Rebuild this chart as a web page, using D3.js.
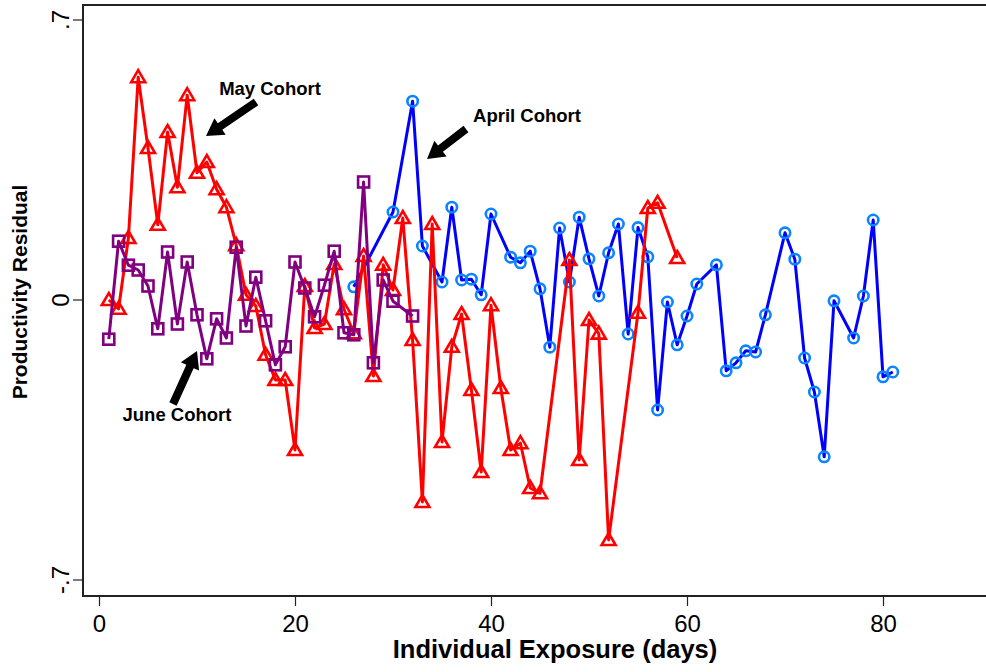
<!DOCTYPE html>
<html>
<head>
<meta charset="utf-8">
<script src="https://cdn.jsdelivr.net/npm/d3@7"></script>
<style>
  body { margin: 0; background: #fff; }
  svg { display: block; }
</style>
</head>
<body>
<script>
// April cohort (blue circles)
let aprilDays = [26, 30, 32, 33, 35, 36, 37, 38, 39, 40, 42, 43, 44, 45, 46, 47, 48, 49, 50, 51, 52, 53, 54, 55, 56, 57, 58, 59, 60, 61, 63, 64, 65, 66, 67, 68, 70, 71, 72, 73, 74, 75, 77, 78, 79, 80, 81];
let aprilVals = [0.033, 0.22, 0.497, 0.135, 0.045, 0.232, 0.05, 0.052, 0.013, 0.215, 0.107, 0.093, 0.122, 0.028, -0.118, 0.18, 0.045, 0.207, 0.103, 0.01, 0.118, 0.19, -0.085, 0.181, 0.108, -0.275, -0.005, -0.112, -0.04, 0.04, 0.088, -0.177, -0.157, -0.127, -0.13, -0.037, 0.168, 0.102, -0.145, -0.23, -0.392, -0.002, -0.095, 0.01, 0.2, -0.192, -0.18];

// May cohort (red triangles)
let mayDays = [1, 2, 3, 4, 5, 6, 7, 8, 9, 10, 11, 12, 13, 14, 15, 16, 17, 18, 19, 20, 21, 22, 23, 24, 25, 26, 27, 28, 29, 30, 31, 32, 33, 34, 35, 36, 37, 38, 39, 40, 41, 42, 43, 44, 45, 48, 49, 50, 51, 52, 55, 56, 57, 59];
let mayVals = [0.0, -0.022, 0.155, 0.557, 0.38, 0.188, 0.42, 0.282, 0.512, 0.318, 0.345, 0.277, 0.232, 0.137, 0.013, -0.015, -0.137, -0.2, -0.2, -0.375, 0.035, -0.07, -0.06, 0.09, -0.023, -0.083, 0.11, -0.19, 0.088, 0.025, 0.205, -0.1, -0.505, 0.19, -0.355, -0.117, -0.035, -0.225, -0.43, -0.013, -0.22, -0.375, -0.358, -0.47, -0.483, 0.1, -0.4, -0.05, -0.084, -0.6, -0.032, 0.23, 0.243, 0.105];

// June cohort (purple squares)
let juneDays = [1, 2, 3, 4, 5, 6, 7, 8, 9, 10, 11, 12, 13, 14, 15, 16, 17, 18, 19, 20, 21, 22, 23, 24, 25, 26, 27, 28, 29, 30, 32];
let juneVals = [-0.098, 0.147, 0.087, 0.075, 0.035, -0.072, 0.12, -0.06, 0.095, -0.037, -0.147, -0.047, -0.095, 0.132, -0.065, 0.057, -0.052, -0.162, -0.117, 0.095, 0.03, -0.042, 0.037, 0.122, -0.082, -0.087, 0.295, -0.157, 0.05, -0.003, -0.04];

let xTicks = [0, 20, 40, 60, 80];
let yTicks = [-0.7, 0, 0.7];
let yTickLabels = ["-.7", "0", ".7"];

let canvasW = 986;
let canvasH = 672;
let plotL = 83, plotT = 5, plotB = 596, plotR = 1010;

let svg = d3.select("body").append("svg")
  .attr("width", canvasW)
  .attr("height", canvasH);

let x = d3.scaleLinear().domain([0, 80]).range([99, 883]);
let y = d3.scaleLinear().domain([0.7, -0.7]).range([20, 580]);

let font = "'Liberation Sans', Arial, Helvetica, sans-serif";

// frame
svg.append("rect")
  .attr("x", plotL).attr("y", plotT)
  .attr("width", plotR - plotL).attr("height", plotB - plotT)
  .attr("fill", "none")
  .attr("stroke", "#222")
  .attr("stroke-width", 2);

// axes
let xAxis = svg.append("g")
  .attr("transform", "translate(0," + plotB + ")")
  .call(d3.axisBottom(x).tickValues(xTicks).tickSize(10).tickPadding(9));
xAxis.select(".domain").remove();
xAxis.selectAll("line").attr("stroke", "#222").attr("stroke-width", 1.2);
xAxis.selectAll("text").attr("font-family", font).attr("font-size", "24px").attr("fill", "#000");

let yAxis = svg.append("g")
  .attr("transform", "translate(" + plotL + ",0)")
  .call(d3.axisLeft(y).tickValues(yTicks).tickSize(10).tickFormat((d, i) => yTickLabels[i]));
yAxis.select(".domain").remove();
yAxis.selectAll("line").attr("stroke", "#222").attr("stroke-width", 1.2);
yAxis.selectAll(".tick").attr("transform", null);
yAxis.selectAll("line").attr("y1", d => y(d)).attr("y2", d => y(d));
yAxis.selectAll("text")
  .attr("font-family", font).attr("font-size", "24px").attr("fill", "#000")
  .attr("x", null).attr("y", null).attr("dy", null)
  .attr("text-anchor", "middle")
  .attr("transform", d => "translate(-22," + y(d) + ") rotate(-90) translate(0,8)");

svg.append("text")
  .attr("x", 555)
  .attr("y", 658)
  .attr("text-anchor", "middle")
  .attr("font-family", font)
  .attr("font-weight", "bold")
  .attr("font-size", "25.5px")
  .text("Individual Exposure (days)");

svg.append("text")
  .attr("text-anchor", "middle")
  .attr("font-family", font)
  .attr("font-weight", "bold")
  .attr("font-size", "21px")
  .attr("transform", "translate(27," + (y(0) - 8) + ") rotate(-90)")
  .text("Productivity Residual");

let line = d3.line().x(d => x(d[0])).y(d => y(d[1]));

// April
let april = aprilDays.map((d, i) => [d, aprilVals[i]]);
svg.append("path").datum(april)
  .attr("d", line).attr("fill", "none")
  .attr("stroke", "#0000ff").attr("stroke-width", 3).attr("stroke-linejoin", "round");
svg.selectAll(".apr").data(april).enter().append("circle")
  .attr("cx", d => x(d[0])).attr("cy", d => y(d[1]))
  .attr("r", 5.2)
  .attr("fill", "none")
  .attr("stroke", "#0a84ff")
  .attr("stroke-width", 2.6);

// May
let may = mayDays.map((d, i) => [d, mayVals[i]]);
svg.append("path").datum(may)
  .attr("d", line).attr("fill", "none")
  .attr("stroke", "#ff0000").attr("stroke-width", 3).attr("stroke-linejoin", "round");
svg.selectAll(".may").data(may).enter().append("path")
  .attr("d", d => {
    let cx = x(d[0]), cy = y(d[1]);
    return "M" + cx + "," + (cy - 7) + "L" + (cx + 7) + "," + (cy + 5) + "L" + (cx - 7) + "," + (cy + 5) + "Z";
  })
  .attr("fill", "none")
  .attr("stroke", "#ff0000")
  .attr("stroke-width", 2.6);

// June
let june = juneDays.map((d, i) => [d, juneVals[i]]);
svg.append("path").datum(june)
  .attr("d", line).attr("fill", "none")
  .attr("stroke", "#800080").attr("stroke-width", 3).attr("stroke-linejoin", "round");
svg.selectAll(".jun").data(june).enter().append("rect")
  .attr("x", d => x(d[0]) - 5.5).attr("y", d => y(d[1]) - 5.5)
  .attr("width", 11).attr("height", 11)
  .attr("fill", "none")
  .attr("stroke", "#800080")
  .attr("stroke-width", 2.6);

// annotations
function arrow(x1, y1, x2, y2) {
  let ang = Math.atan2(y2 - y1, x2 - x1);
  let headLen = 17, headW = 10, shaftW = 4;
  let bx = x2 - headLen * Math.cos(ang), by = y2 - headLen * Math.sin(ang);
  let px = -Math.sin(ang), py = Math.cos(ang);
  let pts = [
    [x1 + px * shaftW, y1 + py * shaftW],
    [bx + px * shaftW, by + py * shaftW],
    [bx + px * headW, by + py * headW],
    [x2, y2],
    [bx - px * headW, by - py * headW],
    [bx - px * shaftW, by - py * shaftW],
    [x1 - px * shaftW, y1 - py * shaftW]
  ];
  svg.append("path")
    .attr("d", "M" + pts.map(p => p.join(",")).join("L") + "Z")
    .attr("fill", "#000");
}

let notes = [
  { text: "May Cohort", x: 270, y: 95 },
  { text: "April Cohort", x: 527, y: 122 },
  { text: "June Cohort", x: 177, y: 421 }
];
svg.selectAll(".note").data(notes).enter().append("text")
  .attr("x", d => d.x).attr("y", d => d.y)
  .attr("text-anchor", "middle")
  .attr("font-family", font)
  .attr("font-weight", "bold")
  .attr("font-size", "18.5px")
  .text(d => d.text);

arrow(256, 102, 206, 136);
arrow(466, 129, 427, 159);
arrow(173, 404, 197, 351);
</script>
</body>
</html>
